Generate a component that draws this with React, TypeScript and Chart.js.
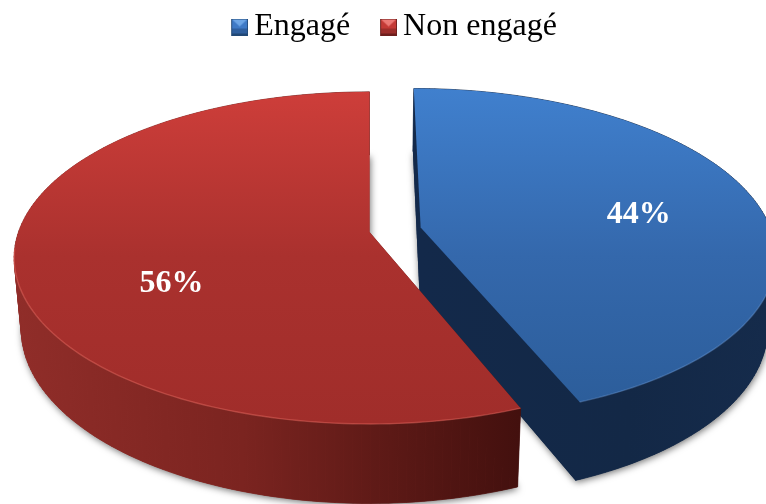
import React, { useEffect, useRef } from "react";
import { Chart, registerables } from "chart.js";

Chart.register(...registerables);

const categories = ["Engagé", "Non engagé"];
const shares = [44, 56];
const percentLabels = ["44%", "56%"];
const explodePerMille = [149, 0];

const topStops = [
  [[0, "#4080ce"], [0.5, "#3468ac"], [1, "#2b5c98"]],
  [[0, "#ce3e3a"], [0.5, "#aa312e"], [1, "#a02d2a"]],
];
const wallStops = [
  [[0, "#13294a"], [0.6, "#132846"], [1, "#152b4b"]],
  [[0, "#902d29"], [0.45, "#7b2420"], [0.8, "#561714"], [1, "#43100e"]],
];
const rimColors = ["rgba(120,165,225,0.35)", "rgba(240,115,105,0.42)"];
const iconColors = [
  ["#2f5f9e", "#6ea6e6", "#3f7ac6", "#214876"],
  ["#9c2e2b", "#ec7a76", "#c43a36", "#6e1f1d"],
];

// Perspective of the pie plane: top plane and bottom plane.
const TOP = { cx: 369.5, y0: 232, a: 162, b: 351, p: 0.156 };
const BOTTOM = { cx: 369.5, y0: 302, a: 170, b: 344, p: 0.156 };
const LABEL_T = [0.65, 0.565];
const LABEL_DY = [6, 34];
const SERIF = '"Liberation Serif", "Times New Roman", serif';

type Plane = typeof TOP;
const project = (pl: Plane, u: number, v: number): [number, number] => {
  const w = 1 - pl.p * v;
  return [pl.cx + (pl.b * u) / w, pl.y0 + (pl.a * v) / w];
};

function makeGradient(ctx: CanvasRenderingContext2D, x0: number, y0: number, x1: number, y1: number, stops: any[]) {
  const g = ctx.createLinearGradient(x0, y0, x1, y1);
  stops.forEach(([o, c]) => g.addColorStop(o, c));
  return g;
}

function makeIcon(colors: string[]) {
  const c = document.createElement("canvas");
  c.width = 21;
  c.height = 17;
  const x = c.getContext("2d")!;
  x.translate(4, 0);
  x.fillStyle = colors[3];
  x.fillRect(0, 0, 17, 17);
  x.fillStyle = colors[2];
  x.fillRect(1, 1, 15, 14);
  x.fillStyle = colors[1];
  x.beginPath();
  x.moveTo(1, 1);
  x.lineTo(16, 1);
  x.lineTo(8.5, 8);
  x.closePath();
  x.fill();
  x.fillStyle = colors[0];
  x.fillRect(1, 10, 15, 5);
  return c;
}

const pie3d = {
  id: "pie3d",
  beforeDatasetsDraw(chart: any) {
    const ctx: CanvasRenderingContext2D = chart.ctx;
    const arcs = chart.getDatasetMeta(0).data;
    const steps = 160;
    const geom = arcs.map((el: any) => {
      const frac = (el.options.offset || 0) / 1000;
      const mid = (el.startAngle + el.endAngle) / 2;
      return {
        ox: Math.cos(mid) * frac,
        oy: Math.sin(mid) * frac,
        a0: el.startAngle,
        a1: el.endAngle,
        mid,
      };
    });

    geom.forEach((g: any, i: number) => {
      const uv = (k: number): [number, number] => {
        const a = g.a0 + ((g.a1 - g.a0) * k) / steps;
        return [g.ox + Math.cos(a), g.oy + Math.sin(a)];
      };
      const tracePlane = (pl: Plane) => {
        ctx.beginPath();
        ctx.moveTo(...project(pl, g.ox, g.oy));
        for (let k = 0; k <= steps; k++) ctx.lineTo(...project(pl, ...uv(k)));
        ctx.closePath();
      };
      ctx.save();

      // soft shadow of the base
      ctx.shadowColor = "rgba(0,0,0,0.55)";
      ctx.shadowBlur = 7;
      ctx.shadowOffsetX = 1;
      ctx.shadowOffsetY = 2;
      ctx.fillStyle = wallStops[i][0][1] as string;
      tracePlane(BOTTOM);
      ctx.fill();
      ctx.shadowColor = "transparent";

      const wall = makeGradient(ctx, i === 0 ? 420 : 15, 0, i === 0 ? 766 : 520, 0, wallStops[i]);
      ctx.fillStyle = wall;
      ctx.strokeStyle = wall;
      ctx.lineWidth = 0.7;

      // cut faces
      for (const k of [0, steps]) {
        ctx.beginPath();
        ctx.moveTo(...project(TOP, g.ox, g.oy));
        ctx.lineTo(...project(TOP, ...uv(k)));
        ctx.lineTo(...project(BOTTOM, ...uv(k)));
        ctx.lineTo(...project(BOTTOM, g.ox, g.oy));
        ctx.closePath();
        ctx.fill();
      }
      // outer wall
      for (let k = 0; k < steps; k++) {
        ctx.beginPath();
        ctx.moveTo(...project(TOP, ...uv(k)));
        ctx.lineTo(...project(TOP, ...uv(k + 1)));
        ctx.lineTo(...project(BOTTOM, ...uv(k + 1)));
        ctx.lineTo(...project(BOTTOM, ...uv(k)));
        ctx.closePath();
        ctx.fill();
        ctx.stroke();
      }

      // top face
      ctx.fillStyle = makeGradient(ctx, 0, 88, 0, 424, topStops[i]);
      tracePlane(TOP);
      ctx.fill();

      // light rim on the front edge
      ctx.strokeStyle = rimColors[i];
      ctx.lineWidth = 1.4;
      ctx.beginPath();
      let started = false;
      for (let k = 0; k <= steps; k++) {
        const [u, v] = uv(k);
        if (v - g.oy < 0.08) {
          started = false;
          continue;
        }
        const [px, py] = project(TOP, u, v);
        if (!started) ctx.moveTo(px, py);
        else ctx.lineTo(px, py);
        started = true;
      }
      ctx.stroke();
      ctx.restore();
    });

    // percentage labels
    ctx.save();
    ctx.font = `bold 32px ${SERIF}`;
    ctx.fillStyle = "#ffffff";
    ctx.textAlign = "center";
    ctx.textBaseline = "middle";
    geom.forEach((g: any, i: number) => {
      const t = LABEL_T[i];
      const [x, y] = project(TOP, g.ox + Math.cos(g.mid) * t, g.oy + Math.sin(g.mid) * t);
      ctx.fillText(percentLabels[i], x, y + LABEL_DY[i]);
    });
    ctx.restore();
    return false;
  },
};

export default function App() {
  const ref = useRef<HTMLCanvasElement>(null);
  useEffect(() => {
    document.body.style.margin = "0";
    const icons = iconColors.map(makeIcon);
    const chart = new Chart(ref.current!, {
      type: "pie",
      data: {
        labels: categories,
        datasets: [
          {
            data: shares,
            offset: explodePerMille,
            backgroundColor: ["#3468ac", "#aa312e"],
            borderWidth: 0,
          },
        ],
      },
      options: {
        responsive: false,
        animation: false,
        devicePixelRatio: 1,
        layout: { padding: { left: 28, top: -25 } },
        plugins: {
          tooltip: { enabled: false },
          legend: {
            position: "top",
            labels: {
              usePointStyle: true,
              pointStyleWidth: 1,
              padding: 36,
              color: "#000000",
              font: { family: SERIF, size: 32 },
              generateLabels: () =>
                categories.map((text, i) => ({
                  text,
                  pointStyle: icons[i],
                  fontColor: "#000000",
                  lineWidth: 0,
                  hidden: false,
                  index: i,
                })),
            },
          },
        },
      } as any,
      plugins: [pie3d as any],
    });
    return () => chart.destroy();
  }, []);
  return (
    <div style={{ position: "fixed", left: 0, top: 0, width: 766, height: 504, overflow: "hidden", background: "#fff" }}>
      <canvas ref={ref} width={766} height={504} style={{ display: "block" }} />
    </div>
  );
}
